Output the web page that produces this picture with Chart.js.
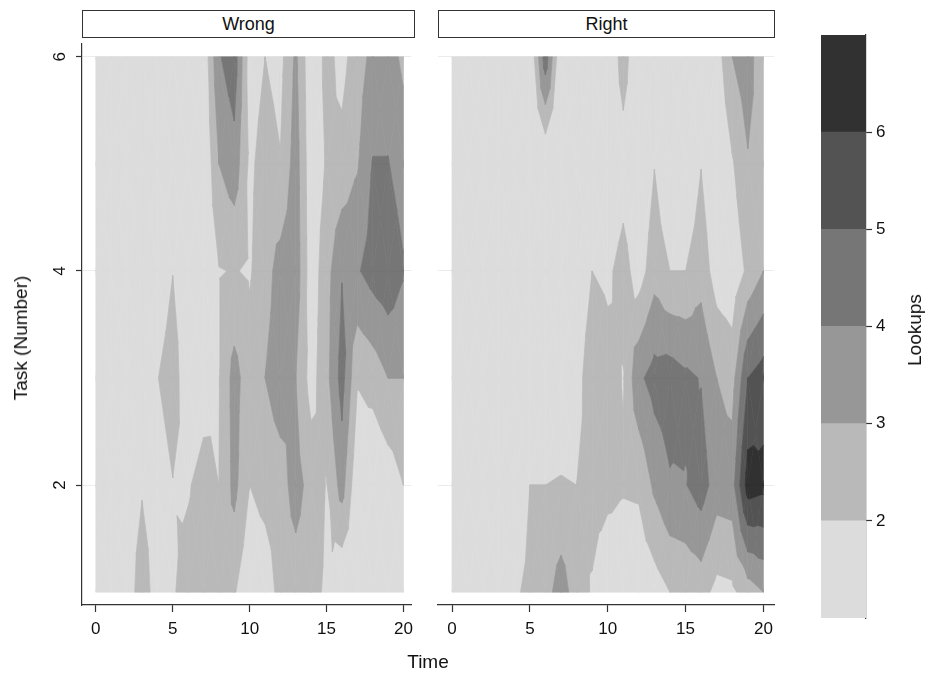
<!DOCTYPE html>
<html lang="en">
<head>
<meta charset="UTF-8">
<title>Lookups by task and time</title>
<script src="https://cdn.jsdelivr.net/npm/chart.js"></script>
<style>
  body { margin: 0; background: #fff; font-family: 'Liberation Sans', Arial, sans-serif; color: #111; }
  #page { position: relative; width: 929px; height: 678px; overflow: hidden; }
  canvas { position: absolute; top: 0; }
  .strip { position: absolute; top: 10px; height: 28px; border: 1px solid #333; background: #fff;
           box-sizing: border-box; text-align: center; line-height: 26px; font-size: 18px; }
  .title { position: absolute; font-size: 19px; white-space: nowrap; }
</style>
</head>
<body>
<div id="page">
  <canvas id="wrong" width="420" height="678" style="left:0"></canvas>
  <canvas id="right" width="350" height="678" style="left:430px"></canvas>
  <canvas id="bar" width="129" height="678" style="left:800px"></canvas>
  <div class="strip" style="left:82px;width:333px">Wrong</div>
  <div class="strip" style="left:438px;width:337px">Right</div>
  <div class="title" style="left:428px;top:662px;transform:translate(-50%,-50%)">Time</div>
  <div class="title" style="left:21px;top:338px;transform:translate(-50%,-50%) rotate(-90deg)">Task (Number)</div>
  <div class="title" style="left:915px;top:330px;transform:translate(-50%,-50%) rotate(-90deg)">Lookups</div>
</div>

<script>
// axes
const times = [0, 1, 2, 3, 4, 5, 6, 7, 8, 9, 10, 11, 12, 13, 14, 15, 16, 17, 18, 19, 20];
const tasks = [1, 2, 3, 4, 5, 6];
const xTicks = [0, 5, 10, 15, 20];
const yTicks = [2, 4, 6];

// contour levels and legend
const levels = [2, 3, 4, 5, 6];
const bandColors = ['#dcdcdc', '#b9b9b9', '#979797', '#767676', '#535353', '#313131'];
const barEdges = [1, 2, 3, 4, 5, 6, 7];
const barTicks = [2, 3, 4, 5, 6];

// Wrong: lookups at t = 0..20, one row per task
const wrongTask1 = [1, 1, 1, 2.9, 1.2, 1.9, 2.4, 2.5, 2.5, 2.1, 1.2, 1.3, 2.4, 2.5, 2.3, 1.85, 1.0, 1.2, 1.2, 1.1, 1.2];
const wrongTask2 = [1, 1, 1, 1.85, 1.2, 1.95, 1.9, 2.4, 2.0, 3.3, 2.0, 2.4, 2.6, 3.4, 2.6, 1.95, 3.4, 1.2, 1.0, 1.4, 2.0];
const wrongTask3 = [1, 1, 1, 1, 1.95, 2.7, 1.0, 1.5, 1.95, 3.4, 2.4, 3.0, 3.5, 3.0, 1.6, 2.7, 4.4, 2.1, 2.4, 3.0, 3.0];
const wrongTask4 = [1, 1, 1, 1, 1, 1.97, 1, 1, 1.95, 2.05, 1.9, 2.6, 3.4, 3.6, 1.4, 2.6, 3.95, 3.9, 4.4, 4.7, 4.1];
const wrongTask5 = [1, 1, 1, 1, 1, 1, 1, 1, 3.0, 3.6, 1.8, 2.4, 2.05, 3.5, 1.3, 2.1, 2.3, 2.9, 4.05, 4.05, 3.5];
const wrongTask6 = [1, 1, 1, 1, 1, 1, 1, 1.2, 3.9, 4.6, 1.5, 2.0, 1.7, 3.2, 1.2, 2.3, 1.7, 2.5, 3.3, 3.4, 2.8];

// Right: lookups at t = 0..20, one row per task
const rightTask1 = [1, 1, 1, 1, 1.8, 2.3, 2.6, 3.5, 2.5, 1.9, 1.2, 1.3, 1.3, 1.5, 2.0, 2.2, 2.4, 1.7, 1.8, 2.5, 3.0];
const rightTask2 = [1, 1, 1, 1, 1.0, 2.0, 2.0, 2.05, 2.0, 2.4, 2.3, 2.1, 2.15, 3.2, 3.9, 3.95, 4.5, 3.5, 3.6, 6.5, 6.3];
const rightTask3 = [1, 1, 1, 1, 1, 1.5, 1.5, 1.5, 1.5, 2.8, 2.4, 1.95, 3.8, 4.4, 4.5, 4.2, 3.95, 3.0, 2.6, 5.0, 5.5];
const rightTask4 = [1, 1, 1, 1, 1, 1, 1, 1, 1, 2.0, 1.8, 2.4, 1.5, 2.6, 2.0, 2.0, 2.6, 1.5, 1.3, 2.2, 3.0];
const rightTask5 = [1, 1, 1, 1, 1, 1, 1, 1, 1, 1, 1, 1.5, 1, 1.97, 1, 1, 1.97, 1.0, 1.9, 2.9, 2.5];
const rightTask6 = [1, 1, 1, 1, 1, 1, 4.6, 1, 1, 1, 1, 2.5, 1, 1, 1, 1, 1, 1.5, 3.0, 3.6, 2.0];

const wrongGrid = [wrongTask1, wrongTask2, wrongTask3, wrongTask4, wrongTask5, wrongTask6];
const rightGrid = [rightTask1, rightTask2, rightTask3, rightTask4, rightTask5, rightTask6];

Chart.defaults.font.family = "'Liberation Sans', Arial, sans-serif";
Chart.defaults.color = '#111';

// keep the part of a polygon where z >= v (or z <= v when upper is true)
function clipPoly(poly, v, upper) {
    if (!isFinite(v)) return poly;
    const inside = p => upper ? p.z <= v : p.z >= v;
    const out = [];
    for (let i = 0; i < poly.length; i++) {
        const p = poly[i], q = poly[(i + 1) % poly.length];
        const pin = inside(p), qin = inside(q);
        if (pin) out.push(p);
        if (pin !== qin) {
            const f = (v - p.z) / (q.z - p.z);
            out.push({ x: p.x + f * (q.x - p.x), y: p.y + f * (q.y - p.y), z: v });
        }
    }
    return out;
}

function contourPlugin(grid) {
    const bounds = [-Infinity, ...levels, Infinity];
    return {
        id: 'contour',
        beforeDatasetsDraw(chart) {
            const ctx = chart.ctx, xs = chart.scales.x, ys = chart.scales.y;
            const tris = [];
            for (let j = 0; j < tasks.length - 1; j++) {
                for (let i = 0; i < times.length - 1; i++) {
                    const c = [
                        { x: times[i], y: tasks[j], z: grid[j][i] },
                        { x: times[i + 1], y: tasks[j], z: grid[j][i + 1] },
                        { x: times[i + 1], y: tasks[j + 1], z: grid[j + 1][i + 1] },
                        { x: times[i], y: tasks[j + 1], z: grid[j + 1][i] }
                    ];
                    const m = {
                        x: (c[0].x + c[1].x) / 2, y: (c[0].y + c[3].y) / 2,
                        z: (c[0].z + c[1].z + c[2].z + c[3].z) / 4
                    };
                    for (let k = 0; k < 4; k++) tris.push([c[k], c[(k + 1) % 4], m]);
                }
            }
            ctx.save();
            ctx.lineWidth = 0.7;
            ctx.lineJoin = 'round';
            for (let b = 0; b < bandColors.length; b++) {
                ctx.fillStyle = bandColors[b];
                ctx.strokeStyle = bandColors[b];
                tris.forEach(tri => {
                    let poly = clipPoly(tri, bounds[b], false);
                    if (poly.length < 3) return;
                    poly = clipPoly(poly, bounds[b + 1], true);
                    if (poly.length < 3) return;
                    ctx.beginPath();
                    poly.forEach((p, n) => {
                        const px = xs.getPixelForValue(p.x), py = ys.getPixelForValue(p.y);
                        if (n === 0) ctx.moveTo(px, py); else ctx.lineTo(px, py);
                    });
                    ctx.closePath();
                    ctx.fill();
                    ctx.stroke();
                });
            }
            ctx.restore();
        }
    };
}

// rotated tick labels on the task axis
const taskLabels = {
    id: 'taskLabels',
    afterDraw(chart) {
        const ctx = chart.ctx, ys = chart.scales.y;
        ctx.save();
        ctx.font = "17px 'Liberation Sans', Arial, sans-serif";
        ctx.fillStyle = '#111';
        ctx.textAlign = 'center';
        ctx.textBaseline = 'middle';
        yTicks.forEach(v => {
            ctx.save();
            ctx.translate(ys.left + 60, ys.getPixelForValue(v));
            ctx.rotate(-Math.PI / 2);
            ctx.fillText(String(v), 0, 0);
            ctx.restore();
        });
        ctx.restore();
    }
};

function panel(id, grid, xMax, yWidth, showAxis) {
    const plugins = [contourPlugin(grid)];
    if (showAxis) plugins.push(taskLabels);
    new Chart(document.getElementById(id), {
        type: 'scatter',
        data: { datasets: [{ data: [], pointRadius: 0 }] },
        options: {
            responsive: false,
            animation: false,
            layout: { padding: { top: 44, right: 5, left: 0, bottom: 0 } },
            plugins: { legend: { display: false }, tooltip: { enabled: false } },
            scales: {
                x: {
                    type: 'linear', min: -0.9, max: xMax,
                    afterBuildTicks: s => { s.ticks = xTicks.map(v => ({ value: v })); },
                    afterFit: s => { s.height = 73; },
                    grid: { drawOnChartArea: false, drawTicks: true, tickLength: 7, tickColor: '#333', tickWidth: 1.2 },
                    border: { display: true, color: '#333', width: 1.2 },
                    ticks: { font: { size: 17 }, padding: 7, maxRotation: 0, color: '#111' }
                },
                y: {
                    type: 'linear', min: 0.88, max: 6.12,
                    afterBuildTicks: s => { s.ticks = yTicks.map(v => ({ value: v })); },
                    afterFit: s => { s.width = yWidth; },
                    grid: { color: '#ececec', lineWidth: 1, drawTicks: showAxis, tickLength: 6, tickColor: '#333', tickWidth: 1.2 },
                    border: { display: showAxis, color: '#333', width: 1.2 },
                    ticks: { display: false }
                }
            }
        },
        plugins: plugins
    });
}

panel('wrong', wrongGrid, 20.51, 82, true);
panel('right', rightGrid, 20.7, 8, false);

// colour legend
new Chart(document.getElementById('bar'), {
    type: 'bar',
    data: {
        labels: ['Lookups'],
        datasets: bandColors.map((col, b) => ({
            data: [[barEdges[b], barEdges[b + 1]]],
            backgroundColor: col,
            borderWidth: 0,
            grouped: false,
            barPercentage: 1,
            categoryPercentage: 1
        }))
    },
    options: {
        responsive: false,
        animation: false,
        layout: { padding: { top: 35, left: 21, right: 0, bottom: 60 } },
        plugins: { legend: { display: false }, tooltip: { enabled: false } },
        scales: {
            x: { display: false },
            y: {
                position: 'right', min: 1, max: 7,
                afterBuildTicks: s => { s.ticks = barTicks.map(v => ({ value: v })); },
                afterFit: s => { s.width = 63; },
                grid: { drawOnChartArea: false, drawTicks: true, tickLength: 6, tickColor: '#333', tickWidth: 1.2 },
                border: { display: true, color: '#333', width: 1.2 },
                ticks: { font: { size: 17 }, padding: 4, color: '#111' }
            }
        }
    }
});
</script>
</body>
</html>
